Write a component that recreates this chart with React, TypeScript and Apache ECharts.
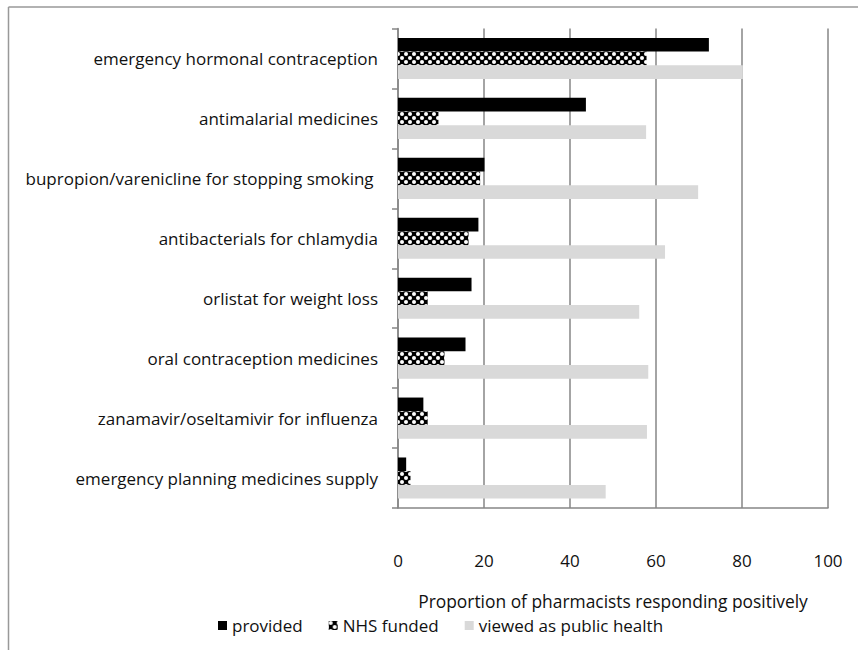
import React, { useEffect, useRef } from "react";
import * as echarts from "echarts";

const categories = [
  "emergency hormonal contraception",
  "antimalarial medicines",
  "bupropion/varenicline for stopping smoking ",
  "antibacterials for chlamydia",
  "orlistat for weight loss",
  "oral contraception medicines",
  "zanamavir/oseltamivir for influenza",
  "emergency planning medicines supply",
];
const provided = [72.3, 43.7, 20.1, 18.7, 17.1, 15.7, 5.9, 1.9];
const nhsFunded = [57.8, 9.4, 19.1, 16.4, 6.9, 10.8, 6.9, 2.9];
const publicHealth = [80.2, 57.7, 69.8, 62.1, 56.1, 58.2, 57.9, 48.3];
const seriesNames = ["provided", "NHS funded", "viewed as public health"];
const xTicks = { min: 0, max: 100, interval: 20 };
const axisTitle = "Proportion of pharmacists responding positively";

function makePattern() {
  const c = document.createElement("canvas");
  c.width = 8;
  c.height = 8;
  const ctx = c.getContext("2d")!;
  ctx.fillStyle = "#000";
  ctx.fillRect(0, 0, 8, 8);
  ctx.fillStyle = "#fff";
  const blob = (cx: number, cy: number) => {
    ctx.beginPath();
    ctx.arc(cx, cy, 2.0, 0, Math.PI * 2);
    ctx.fill();
  };
  blob(2, 2);
  blob(6, 6);
  blob(-2, 6);
  blob(10, 2);
  blob(6, -2);
  blob(2, 10);
  return c;
}

export default function App() {
  const ref = useRef<HTMLDivElement>(null);
  useEffect(() => {
    if (!ref.current) return;
    const chart = echarts.init(ref.current, undefined, { renderer: "svg" });
    const pat = makePattern();
    const pattern: any = { image: pat, repeat: "repeat", imageWidth: 8, imageHeight: 8 };
    const font = "'Open Sans', sans-serif";
    const barW = 13.7;
    chart.setOption({
      animation: false,
      textStyle: { fontFamily: font },
      grid: { left: 398, right: 30, top: 28.5, bottom: 142, containLabel: false },
      xAxis: {
        type: "value",
        min: xTicks.min,
        max: xTicks.max,
        interval: xTicks.interval,
        axisLine: { show: true, lineStyle: { color: "#868686", width: 1.5 } },
        axisTick: { show: false },
        splitLine: { show: true, lineStyle: { color: "#868686", width: 1.5 } },
        axisLabel: { margin: 44, fontSize: 17, color: "#111", fontFamily: font },
        name: axisTitle,
        nameLocation: "middle",
        nameGap: 86,
        nameTextStyle: { fontSize: 17.4, color: "#111", fontFamily: font, lineHeight: 14 },
      },
      yAxis: {
        type: "category",
        inverse: true,
        data: categories,
        axisLine: { show: true, lineStyle: { color: "#868686", width: 1.5 } },
        axisTick: { show: true, length: 6, lineStyle: { color: "#868686", width: 1.5 } },
        axisLabel: { margin: 20, fontSize: 17, color: "#111", fontFamily: font },
      },
      legend: {
        left: 218,
        top: 617,
        padding: 0,
        icon: "rect",
        itemWidth: 9,
        itemHeight: 9,
        itemGap: 26,
        textStyle: { fontSize: 17, color: "#111", fontFamily: font, lineHeight: 14 },
        data: seriesNames,
      },
      graphic: [
        { type: "line", shape: { x1: 8.5, y1: 7, x2: 858, y2: 7 }, style: { stroke: "#999", lineWidth: 1.5 } },
        { type: "line", shape: { x1: 8.5, y1: 7, x2: 8.5, y2: 650 }, style: { stroke: "#999", lineWidth: 1.5 } },
      ],
      series: [
        { name: seriesNames[0], type: "bar", data: provided, barWidth: barW, barGap: "0%", itemStyle: { color: "#000" } },
        { name: seriesNames[1], type: "bar", data: nhsFunded, barWidth: barW, barGap: "0%", itemStyle: { color: pattern } },
        { name: seriesNames[2], type: "bar", data: publicHealth, barWidth: barW, barGap: "0%", itemStyle: { color: "#d9d9d9" } },
      ],
    });
    return () => chart.dispose();
  }, []);
  return (
    <div
      ref={ref}
      style={{ position: "fixed", left: 0, top: 0, width: 858, height: 650, background: "#fff" }}
    />
  );
}
